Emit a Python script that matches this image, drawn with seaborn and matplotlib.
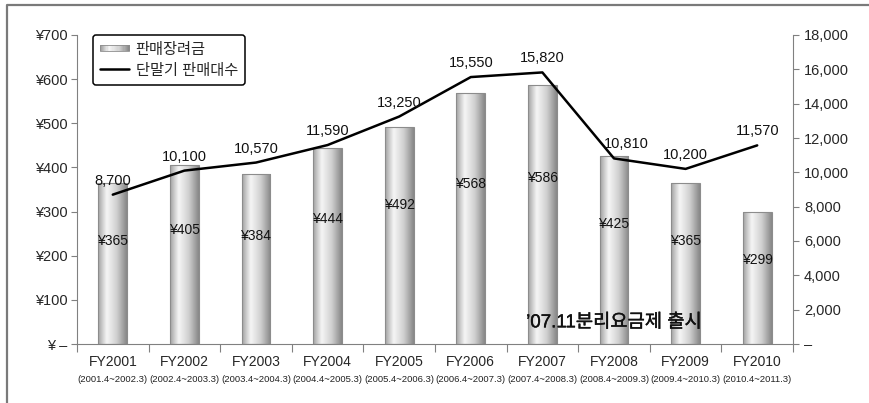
import numpy as np
import pandas as pd
import matplotlib
matplotlib.use("Agg")
import matplotlib.pyplot as plt
import matplotlib.patheffects as pe
import seaborn as sns
from matplotlib.colors import LinearSegmentedColormap
from matplotlib.patches import Rectangle
from matplotlib.lines import Line2D
from matplotlib.legend_handler import HandlerBase
from matplotlib.ticker import FixedLocator
from matplotlib import transforms

# ---- data -------------------------------------------------------------
fiscal_years = ["FY2001", "FY2002", "FY2003", "FY2004", "FY2005",
                "FY2006", "FY2007", "FY2008", "FY2009", "FY2010"]
periods = ["(2001.4~2002.3)", "(2002.4~2003.3)", "(2003.4~2004.3)",
           "(2004.4~2005.3)", "(2005.4~2006.3)", "(2006.4~2007.3)",
           "(2007.4~2008.3)", "(2008.4~2009.3)", "(2009.4~2010.3)",
           "(2010.4~2011.3)"]
subsidy = [365, 405, 384, 444, 492, 568, 586, 425, 365, 299]          # 판매장려금 (¥)
handset_sales = [8700, 10100, 10570, 11590, 13250,
                 15550, 15820, 10810, 10200, 11570]                 # 단말기 판매대수
left_ticks = [0, 100, 200, 300, 400, 500, 600, 700]
right_ticks = [0, 2000, 4000, 6000, 8000, 10000, 12000, 14000, 16000, 18000]
note_text = "’07.11분리요금제 출시"

sns.set_theme(style="white")
plt.rcParams["font.family"] = ["Liberation Sans", "Noto Sans CJK KR", "DejaVu Sans"]

df = pd.DataFrame({"year": fiscal_years, "subsidy": subsidy,
                   "sales": handset_sales, "pos": np.arange(len(fiscal_years))})

fig = plt.figure(figsize=(8.7, 4.03), dpi=100)
ax = fig.add_axes([77 / 870, 1 - 344 / 403, (793 - 77) / 870, (344 - 35) / 403])

# ---- bars with a cylinder-like shading --------------------------------
sns.barplot(data=df, x="year", y="subsidy", ax=ax, width=0.4,
            color="#d0d0d0", edgecolor="#8c8c8c", linewidth=0.8)

cyl = LinearSegmentedColormap.from_list(
    "cyl", [(0.0, "#a0a0a0"), (0.3, "#f6f6f6"), (0.65, "#d0d0d0"), (1.0, "#868686")])
grad = np.linspace(0, 1, 256).reshape(1, -1)
for p in ax.patches:
    x0, w, h = p.get_x(), p.get_width(), p.get_height()
    im = ax.imshow(grad, cmap=cyl, extent=[x0, x0 + w, 0, h], aspect="auto",
                   origin="lower", interpolation="bicubic", zorder=2)
    im.set_clip_path(p)
    p.set_facecolor("none")
    p.set_zorder(3)

ax.set_xlim(-0.5, len(fiscal_years) - 0.5)
ax.set_ylim(0, 700)
ax.set_xlabel("")
ax.set_ylabel("")

for i, v in enumerate(subsidy):
    ax.text(i, v * 0.64, f"¥{v}", ha="center", va="center", fontsize=10,
            color="#111111", zorder=5)

# ---- left axis --------------------------------------------------------
ax.yaxis.set_major_locator(FixedLocator(left_ticks))
ax.set_yticklabels(["¥ –" if t == 0 else f"¥{t}" for t in left_ticks])
ax.tick_params(axis="y", which="major", length=4, width=0.8, color="#808080",
               direction="out", pad=3, labelsize=10.5, left=True)

# ---- x axis: labels at centres, tick marks on category boundaries ------
ax.set_xticks(range(len(fiscal_years)))
ax.set_xticklabels(fiscal_years)
ax.tick_params(axis="x", which="major", length=0, pad=8, labelsize=10)
ax.xaxis.set_minor_locator(FixedLocator(np.arange(-0.5, len(fiscal_years), 1.0)))
ax.tick_params(axis="x", which="minor", length=6, width=0.8, color="#808080",
               direction="out", bottom=True)

blend = transforms.blended_transform_factory(ax.transData, ax.transAxes)
for i, per in enumerate(periods):
    ax.text(i, -0.114, per, transform=blend, ha="center", va="center",
            fontsize=6.8, color="#222222")

for side in ["top", "right"]:
    ax.spines[side].set_visible(False)
for side in ["left", "bottom"]:
    ax.spines[side].set_color("#808080")
    ax.spines[side].set_linewidth(0.8)

# ---- line on the secondary axis ---------------------------------------
ax2 = ax.twinx()
sns.lineplot(data=df, x="pos", y="sales", ax=ax2, color="black",
             linewidth=1.8, legend=False)
ax2.set_ylim(0, 18000)
ax2.set_xlim(-0.5, len(fiscal_years) - 0.5)
ax2.set_ylabel("")
ax2.yaxis.set_major_locator(FixedLocator(right_ticks))
ax2.set_yticklabels(["–" if t == 0 else f"{t:,}" for t in right_ticks])
ax2.tick_params(axis="y", which="major", length=4, width=0.8, color="#808080",
                direction="out", pad=4, labelsize=10.5, right=True)
for side in ["top", "left", "bottom"]:
    ax2.spines[side].set_visible(False)
ax2.spines["right"].set_color("#808080")
ax2.spines["right"].set_linewidth(0.8)

# value labels above the line; nudge right where the line falls steeply into a point
for i, v in enumerate(handset_sales):
    dx = 9 if i > 0 and handset_sales[i - 1] - v > 3000 else 0
    ax2.annotate(f"{v:,}", (i, v), xytext=(dx, 5), textcoords="offset points",
                 ha="center", va="bottom", fontsize=10.5, color="#111111")

ax2.text(7, 48 * 18000 / 700, note_text, ha="center", va="center", fontsize=13.5,
         color="#111111", zorder=6,
         path_effects=[pe.withStroke(linewidth=0.3, foreground="#111111")])


# ---- legend -----------------------------------------------------------
class CylinderHandler(HandlerBase):
    def create_artists(self, legend, orig_handle, xdescent, ydescent,
                       width, height, fontsize, trans):
        n = 24
        y0 = -ydescent + height * 0.2
        hh = height * 0.6
        arts = []
        for k in range(n):
            arts.append(Rectangle((-xdescent + width * k / n, y0), width / n + 0.3, hh,
                                  facecolor=cyl((k + 0.5) / n), edgecolor="none",
                                  transform=trans))
        arts.append(Rectangle((-xdescent, y0), width, hh, fill=False,
                              edgecolor="#8c8c8c", linewidth=0.6, transform=trans))
        return arts


bar_proxy = Rectangle((0, 0), 1, 1)
line_proxy = Line2D([], [], color="black", linewidth=1.8)
leg = ax2.legend([bar_proxy, line_proxy], ["판매장려금", "단말기 판매대수"],
                 handler_map={bar_proxy: CylinderHandler()},
                 loc="upper left", bbox_to_anchor=(0.022, 1.0), borderaxespad=0,
                 fontsize=11, frameon=True, fancybox=True, framealpha=1,
                 handlelength=1.9, handletextpad=0.4, labelspacing=0.45,
                 borderpad=0.5)
leg.get_frame().set_edgecolor("black")
leg.get_frame().set_linewidth(1.1)

# ---- outer frame ------------------------------------------------------
fig.add_artist(Line2D([7 / 870, 7 / 870, 1.0], [0.0, 1 - 5 / 403, 1 - 5 / 403],
                      transform=fig.transFigure, color="#7a7a7a", linewidth=1.6))

fig.savefig("out.png", dpi=100)
